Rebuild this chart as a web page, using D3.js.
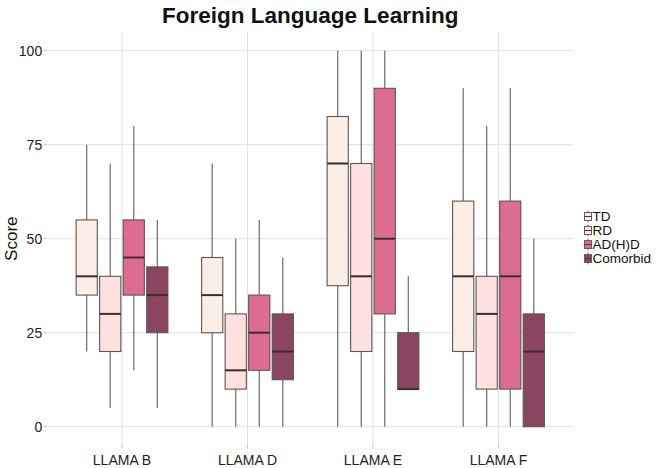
<!DOCTYPE html>
<html><head><meta charset="utf-8">
<script src="https://cdn.jsdelivr.net/npm/d3@7"></script>
<style>body{margin:0;background:#fff;} text{font-family:"Liberation Sans",Arial,sans-serif;}</style>
</head><body>
<svg id="c" width="663" height="468"></svg>
<script>
const categories = ["LLAMA B","LLAMA D","LLAMA E","LLAMA F"];
const groups = ["TD","RD","AD(H)D","Comorbid"];
const colors = ["#FAEEE6","#FFE1E1","#DC6D90","#8B4560"];
// per group: [category][stat] -> [low, q1, median, q3, high]
const TD       = [[20,35,40,55,75],[0,25,35,45,70],[0,37.5,70,82.5,100],[0,20,40,60,90]];
const RD       = [[5,20,30,40,70],[0,10,15,30,50],[0,20,40,70,100],[0,10,30,40,80]];
const ADHD     = [[15,35,45,55,80],[0,15,25,35,55],[0,30,50,90,100],[0,10,40,60,90]];
const Comorbid = [[5,25,35,42.5,55],[0,12.5,20,30,45],[10,10,10,25,40],[0,0,20,30,50]];
const yTicks = [0,25,50,75,100];

const series = [TD,RD,ADHD,Comorbid];
const svg = d3.select("#c");
const L = 46.7, R = 573.8, T = 31.9, B = 445.5;
// ggplot-like: category centers at 1..4 with 0.6 expansion
const xc = d3.scaleLinear().domain([0.4,4.6]).range([L,R]);
const y = d3.scaleLinear().domain([-5,105]).range([B,T]);
const dodgeW = 0.75;
const xSub = d3.scaleBand().domain(groups).range([-dodgeW/2, dodgeW/2]);
const boxW = xSub.bandwidth()*0.9;

// grid
const g = svg.append("g");
g.selectAll(".hg").data(yTicks).join("line")
  .attr("x1",L).attr("x2",R).attr("y1",d=>y(d)).attr("y2",d=>y(d))
  .attr("stroke","#e3e3e3").attr("stroke-width",1);
g.selectAll(".vg").data(categories).join("line")
  .attr("x1",(d,i)=>xc(i+1)).attr("x2",(d,i)=>xc(i+1)).attr("y1",T).attr("y2",B)
  .attr("stroke","#e3e3e3").attr("stroke-width",1);

// boxes
const pxPerUnit = xc(2)-xc(1);
series.forEach((s,gi)=>{
  s.forEach((st,ci)=>{
    const cx = xc(ci+1) + (xSub(groups[gi]) + xSub.bandwidth()/2)*pxPerUnit;
    const w = boxW*pxPerUnit;
    const [lo,q1,md,q3,hi] = st;
    const bg = svg.append("g");
    bg.append("line").attr("x1",cx).attr("x2",cx).attr("y1",y(hi)).attr("y2",y(q3))
      .attr("stroke","#6b6b6b").attr("stroke-width",1.2);
    bg.append("line").attr("x1",cx).attr("x2",cx).attr("y1",y(q1)).attr("y2",y(lo))
      .attr("stroke","#6b6b6b").attr("stroke-width",1.2);
    bg.append("rect").attr("x",cx-w/2).attr("y",y(q3)).attr("width",w).attr("height",y(q1)-y(q3))
      .attr("fill",colors[gi]).attr("stroke","#5e5555").attr("stroke-width",1.1);
    bg.append("line").attr("x1",cx-w/2).attr("x2",cx+w/2).attr("y1",y(md)).attr("y2",y(md))
      .attr("stroke","#3a2e30").attr("stroke-width",2);
  });
});

// y axis ticks + labels
const ya = svg.append("g");
ya.selectAll("line").data(yTicks).join("line")
  .attr("x1",L-3).attr("x2",L).attr("y1",d=>y(d)).attr("y2",d=>y(d)).attr("stroke","#bbb");
ya.selectAll("text").data(yTicks).join("text")
  .attr("x",L-4.5).attr("y",d=>y(d)).attr("dy","0.36em").attr("text-anchor","end")
  .attr("font-size",14).attr("fill","#222").text(d=>d);
// x axis
const xa = svg.append("g");
xa.selectAll("line").data(categories).join("line")
  .attr("x1",(d,i)=>xc(i+1)).attr("x2",(d,i)=>xc(i+1)).attr("y1",B).attr("y2",B+3).attr("stroke","#bbb");
xa.selectAll("text").data(categories).join("text")
  .attr("x",(d,i)=>xc(i+1)).attr("y",464.5).attr("text-anchor","middle")
  .attr("font-size",14).attr("fill","#222").text(d=>d);

// titles
svg.append("text").attr("x",(L+R)/2).attr("y",23).attr("text-anchor","middle")
  .attr("font-size",22.5).attr("font-weight","bold").attr("fill","#111").text("Foreign Language Learning");
svg.append("text").attr("transform",`translate(17,${(T+B)/2}) rotate(-90)`).attr("text-anchor","middle")
  .attr("font-size",17).attr("fill","#111").text("Score");

// legend
const legY = [216.5,230.5,244.5,258.5];
const lg = svg.append("g");
groups.forEach((gname,i)=>{
  const cy = legY[i];
  lg.append("line").attr("x1",588).attr("x2",588).attr("y1",cy-6).attr("y2",cy+6).attr("stroke","#6b6b6b");
  lg.append("rect").attr("x",584.5).attr("y",cy-4).attr("width",7).attr("height",8)
    .attr("fill",colors[i]).attr("stroke","#6b5b5f").attr("stroke-width",1);
  lg.append("line").attr("x1",584.5).attr("x2",591.5).attr("y1",cy).attr("y2",cy).attr("stroke","#4a3a3e").attr("stroke-width",1);
  lg.append("text").attr("x",592.5).attr("y",cy).attr("dy","0.36em").attr("font-size",13.5).attr("fill","#111").text(gname);
});
</script>
</body></html>
